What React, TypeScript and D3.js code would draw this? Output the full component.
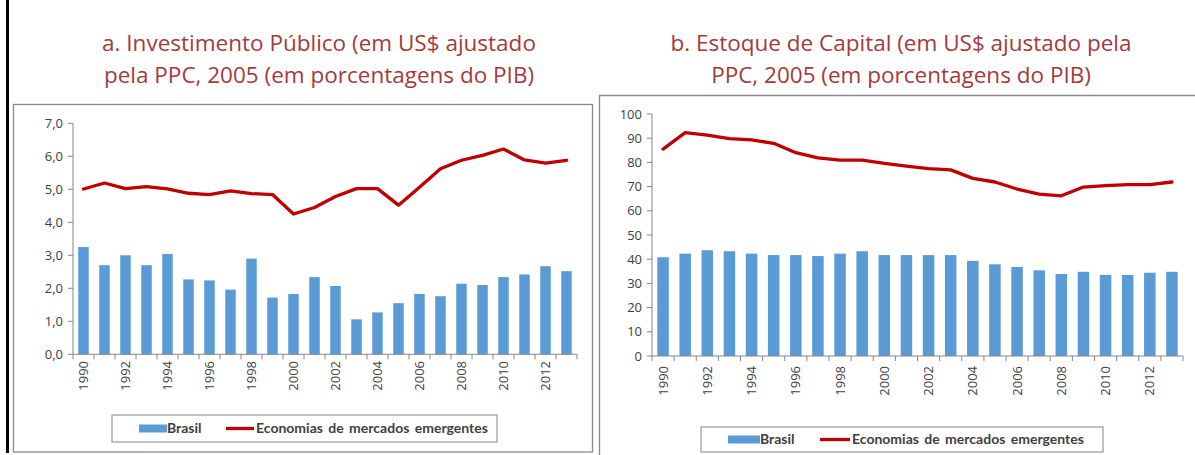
import React from "react";
import * as d3 from "d3";

const years: number[] = d3.range(1990, 2014);

const brasilInvest: number[] = [3.25, 2.70, 3.00, 2.70, 3.04, 2.27, 2.24, 1.96, 2.90, 1.72, 1.83, 2.34, 2.07, 1.06, 1.27, 1.55, 1.83, 1.76, 2.14, 2.10, 2.34, 2.42, 2.67, 2.52];
const emergInvest: number[] = [5.01, 5.19, 5.02, 5.08, 5.01, 4.88, 4.84, 4.95, 4.87, 4.84, 4.25, 4.45, 4.78, 5.02, 5.02, 4.52, 5.06, 5.62, 5.88, 6.03, 6.22, 5.89, 5.79, 5.88];

const brasilCapital: number[] = [40.8, 42.3, 43.7, 43.3, 42.3, 41.7, 41.7, 41.3, 42.3, 43.3, 41.7, 41.7, 41.7, 41.7, 39.3, 37.9, 36.8, 35.4, 33.9, 34.8, 33.5, 33.5, 34.4, 34.8];
const emergCapital: number[] = [85.5, 92.3, 91.3, 89.8, 89.3, 87.9, 84.0, 81.9, 80.9, 80.9, 79.6, 78.5, 77.4, 76.9, 73.4, 71.9, 69.0, 66.9, 66.2, 69.8, 70.4, 70.8, 70.8, 71.9];

const ticksA: number[] = [0, 1, 2, 3, 4, 5, 6, 7];
const ticksB: number[] = [0, 10, 20, 30, 40, 50, 60, 70, 80, 90, 100];

const titleA: string[] = ["a. Investimento Público (em US$ ajustado", "pela PPC, 2005 (em porcentagens do PIB)"];
const titleB: string[] = ["b. Estoque de Capital (em US$ ajustado pela", "PPC, 2005 (em porcentagens do PIB)"];
const legendLabels: string[] = ["Brasil", "Economias de mercados emergentes"];

const BAR = "#5B9BD5";
const LINE = "#C00000";
const AXIS = "#868686";
const TXT = "#404040";
const TITLE = "#A23B3B";
const FONT = "'Open Sans', 'Noto Sans', sans-serif";
const LFONT = "Lato, 'Open Sans', sans-serif";

interface PanelProps {
  x0: number; x1: number; yTop: number; yBottom: number; max: number;
  ticks: number[]; fmt: (v: number) => string; bars: number[]; line: number[];
  yearLabelY: number; pad: number;
}

function Panel(p: PanelProps) {
  const x = d3.scaleBand<number>().domain(years).range([p.x0, p.x1]).paddingInner(p.pad).paddingOuter(p.pad / 2);
  const y = d3.scaleLinear().domain([0, p.max]).range([p.yBottom, p.yTop]);
  const step = x.step();
  const cx = (yr: number) => (x(yr) as number) + x.bandwidth() / 2;
  const lineGen = d3.line<number>().x((_, i) => cx(years[i])).y((v) => y(v));
  const boundaries = d3.range(years.length + 1).map((i) => p.x0 + i * step);
  return (
    <g>
      {p.bars.map((v, i) => (
        <rect key={i} x={x(years[i])} y={y(v)} width={x.bandwidth()} height={y(0) - y(v)} fill={BAR} />
      ))}
      <path d={lineGen(p.line) || ""} fill="none" stroke={LINE} strokeWidth={3.3} strokeLinejoin="round" strokeLinecap="round" />
      <line x1={p.x0} x2={p.x0} y1={y(p.max)} y2={y(0)} stroke={AXIS} strokeWidth={1} />
      {p.ticks.map((t) => (
        <g key={t}>
          <line x1={p.x0 - 5} x2={p.x0} y1={y(t)} y2={y(t)} stroke={AXIS} />
          <text x={p.x0 - 10} y={y(t)} dy="0.35em" textAnchor="end" fontSize={13} fill={TXT} fontFamily={FONT}>{p.fmt(t)}</text>
        </g>
      ))}
      <line x1={p.x0} x2={p.x1} y1={y(0)} y2={y(0)} stroke={AXIS} />
      {boundaries.map((bx, i) => (
        <line key={i} x1={bx} x2={bx} y1={y(0)} y2={y(0) + 5} stroke={AXIS} />
      ))}
      {years.filter((yr) => yr % 2 === 0).map((yr) => (
        <text key={yr} transform={`translate(${cx(yr)},${p.yearLabelY}) rotate(-90)`} dy="0.35em" textAnchor="end" fontSize={13} fill={TXT} fontFamily={FONT}>{yr}</text>
      ))}
    </g>
  );
}

function Legend(props: { bx: number; by: number; bw: number; bh: number; sw: number; tx1: number; lx: number; tx2: number }) {
  const cy = props.by + props.bh / 2;
  return (
    <g>
      <rect x={props.bx} y={props.by} width={props.bw} height={props.bh} fill="#fff" stroke={AXIS} strokeWidth={1} />
      <rect x={props.sw} y={cy - 4} width={props.tx1 - props.sw} height={8} fill={BAR} />
      <text x={props.tx1} y={cy} dy="0.35em" fontSize={14} fontWeight="bold" fill={TXT} fontFamily={LFONT}>{legendLabels[0]}</text>
      <line x1={props.lx} x2={props.tx2 - 2} y1={cy} y2={cy} stroke={LINE} strokeWidth={3.3} />
      <text x={props.tx2} y={cy} dy="0.35em" fontSize={14} fontWeight="bold" fill={TXT} fontFamily={LFONT} wordSpacing={2}>{legendLabels[1]}</text>
    </g>
  );
}

export default function App() {
  return (
    <svg width={1195} height={455} style={{ position: "absolute", left: 0, top: 0, background: "#fff" }}>
      <rect x={0} y={0} width={1195} height={455} fill="#fff" />
      <line x1={7.5} x2={7.5} y1={0} y2={453} stroke="#000" strokeWidth={3} />
      {titleA.map((t, i) => (
        <text key={i} x={319} y={51 + i * 32} textAnchor="middle" fontSize={22.5} fill={TITLE} fontFamily={FONT}>{t}</text>
      ))}
      {titleB.map((t, i) => (
        <text key={i} x={901} y={51 + i * 32} textAnchor="middle" fontSize={22.5} fill={TITLE} fontFamily={FONT}>{t}</text>
      ))}
      <rect x={13.5} y={104.5} width={579} height={347.5} fill="none" stroke="#8a8a8a" strokeWidth={1.3} />
      <path d="M599.5,455 L599.5,95.5 L1195,95.5" fill="none" stroke="#8a8a8a" strokeWidth={1.3} />
      <Panel x0={73} x1={577} yTop={123.3} yBottom={354.3} max={7} ticks={ticksA}
        fmt={(v) => d3.format(".1f")(v).replace(".", ",")} bars={brasilInvest} line={emergInvest} yearLabelY={361} pad={0.5} />
      <Panel x0={652} x1={1183} yTop={114} yBottom={356} max={100} ticks={ticksB}
        fmt={(v) => String(v)} bars={brasilCapital} line={emergCapital} yearLabelY={366} pad={0.48} />
      <Legend bx={112} by={415} bw={385} bh={27} sw={139} tx1={167} lx={226} tx2={256} />
      <Legend bx={701} by={427} bw={402} bh={25} sw={728} tx1={760} lx={820} tx2={852} />
    </svg>
  );
}
